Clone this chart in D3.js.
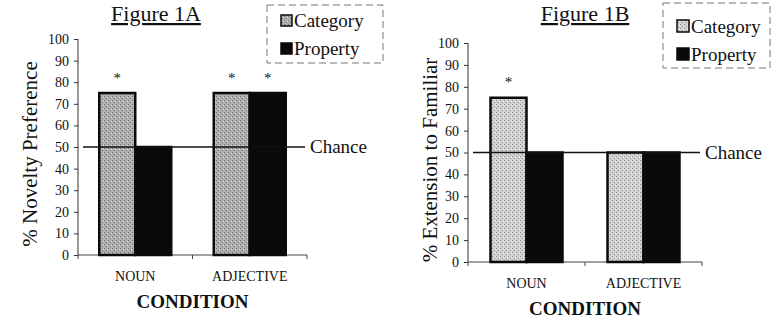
<!DOCTYPE html>
<html><head><meta charset="utf-8">
<script src="https://cdn.jsdelivr.net/npm/d3@7"></script>
<style>body{margin:0;background:#fff}svg{display:block}svg text{font-family:"Liberation Serif","DejaVu Serif",serif !important;fill:#111}</style>
</head><body>
<svg id="c" width="776" height="323" font-family="Liberation Serif"></svg>
<script>
const conditions = ["NOUN", "ADJECTIVE"];
const seriesNames = ["Category", "Property"];
const panelTitles = ["Figure 1A", "Figure 1B"];
const yTitles = ["% Novelty Preference", "% Extension to Familiar"];
const categoryA = [75, 75];
const propertyA = [50, 75];
const categoryB = [75, 50];
const propertyB = [50, 50];
const starsA = [[0, "Category"], [1, "Category"], [1, "Property"]];
const starsB = [[0, "Category"]];
const starValue = 83;
const chanceValue = 50;
const yTicks = [0, 10, 20, 30, 40, 50, 60, 70, 80, 90, 100];

const FF = "Liberation Serif";
const svg = d3.select("#c");
const defs = svg.append("defs");
function mkPattern(id, base, dot, light) {
  const p = defs.append("pattern").attr("id", id).attr("width", 4).attr("height", 4).attr("patternUnits", "userSpaceOnUse");
  p.append("rect").attr("width", 4).attr("height", 4).attr("fill", base);
  p.append("rect").attr("x", 0).attr("y", 0).attr("width", 1).attr("height", 1).attr("fill", dot);
  p.append("rect").attr("x", 2).attr("y", 2).attr("width", 1).attr("height", 1).attr("fill", dot);
  p.append("rect").attr("x", 3).attr("y", 1).attr("width", 1).attr("height", 1).attr("fill", light);
}
mkPattern("gA", "#b0b0b0", "#6e6e6e", "#e0e0e0");
mkPattern("gB", "#d2d2d2", "#8a8a8a", "#f0f0f0");

const panels = [
  {cat: categoryA, prop: propertyA, stars: starsA, fill: "url(#gA)", x0: 78, x1: 307, y0: 255, y1: 39,
   title: panelTitles[0], titleX: 156, yTitle: yTitles[0], yTitleX: 30, yTitleY: 154,
   legend: {x: 267, y: 5, w: 116, h: 58, sw: 11, r1: 27, r2: 55}},
  {cat: categoryB, prop: propertyB, stars: starsB, fill: "url(#gB)", x0: 468, x1: 702, y0: 262, y1: 43,
   title: panelTitles[1], titleX: 585, yTitle: yTitles[1], yTitleX: 430, yTitleY: 160,
   legend: {x: 663, y: 3, w: 107, h: 65, sw: 12, r1: 33, r2: 61}}
];

function txt(sel, size, weight) {
  return sel.attr("font-family", FF).style("font-family", FF).style("font-size", size + "px").style("font-weight", weight || "normal");
}

panels.forEach(p => {
  const g = svg.append("g");
  const y = d3.scaleLinear().domain([0, 100]).range([p.y0, p.y1]);
  const x = d3.scaleBand().domain(conditions).range([p.x0, p.x1]).padding(0);
  const xs = d3.scaleBand().domain(seriesNames).range([-36, 36]).padding(0);

  // y axis
  const ya = g.append("g").attr("transform", `translate(${p.x0},0)`)
    .call(d3.axisLeft(y).tickValues(yTicks).tickSize(4).tickPadding(5));
  ya.attr("font-family", FF).attr("font-size", null);
  ya.select(".domain").attr("stroke", "#333").attr("d", `M-0,${p.y1}V${p.y0}`);
  ya.selectAll(".tick line").attr("stroke", "#333");
  txt(ya.selectAll(".tick text"), 14).attr("fill", "#111");

  // x axis
  const xa = g.append("g").attr("transform", `translate(0,${p.y0})`)
    .call(d3.axisBottom(x).tickSize(0).tickPadding(16));
  xa.attr("font-family", FF).attr("font-size", null);
  xa.select(".domain").attr("stroke", "#444").attr("d", `M${p.x0},0H${p.x1}`);
  txt(xa.selectAll(".tick text"), 14).attr("fill", "#111");
  const bounds = [p.x0, x("ADJECTIVE"), p.x1];
  g.selectAll(".bt").data(bounds).enter().append("line")
    .attr("x1", d => d).attr("x2", d => d).attr("y1", p.y0).attr("y2", p.y0 + 4).attr("stroke", "#444");

  // bars
  const rows = conditions.map((c, i) => ({c, Category: p.cat[i], Property: p.prop[i]}));
  rows.forEach(r => {
    const cx = x(r.c) + x.bandwidth() / 2;
    seriesNames.forEach(s => {
      g.append("rect")
        .attr("x", cx + xs(s)).attr("width", xs.bandwidth())
        .attr("y", y(r[s])).attr("height", y(0) - y(r[s]))
        .attr("fill", s === "Category" ? p.fill : "#0a0a0a")
        .attr("stroke", "#0a0a0a").attr("stroke-width", 2.5);
    });
  });

  // chance line
  g.append("line").attr("x1", p.x0 + 5).attr("x2", p.x1 - 2)
    .attr("y1", y(chanceValue)).attr("y2", y(chanceValue)).attr("stroke", "#111").attr("stroke-width", 1.5);
  txt(g.append("text"), 19).attr("x", p.x1 + 3).attr("y", y(chanceValue) + 6).text("Chance");

  // stars
  p.stars.forEach(([ci, s]) => {
    const cx = x(conditions[ci]) + x.bandwidth() / 2 + xs(s) + xs.bandwidth() / 2;
    txt(g.append("text"), 15).attr("x", cx).attr("y", y(starValue) + 7).attr("text-anchor", "middle").text("*");
  });

  // titles
  txt(g.append("text"), 22).attr("x", p.titleX).attr("y", 21).attr("text-anchor", "middle")
    .style("text-decoration", "underline").text(p.title);
  txt(g.append("text"), 21).attr("transform", `translate(${p.yTitleX},${p.yTitleY}) rotate(-90)`)
    .attr("text-anchor", "middle").attr("dy", "0.35em").text(p.yTitle);
  txt(g.append("text"), 19, "bold").attr("x", (p.x0 + p.x1) / 2).attr("y", p.y0 + 53).attr("text-anchor", "middle")
    .text("CONDITION");

  // legend
  const L = p.legend;
  g.append("rect").attr("x", L.x).attr("y", L.y).attr("width", L.w).attr("height", L.h)
    .attr("fill", "none").attr("stroke", "#777").attr("stroke-dasharray", "7,4").attr("stroke-width", 1);
  [[seriesNames[0], p.fill, L.r1], [seriesNames[1], "#0a0a0a", L.r2]].forEach(([name, f, ry]) => {
    g.append("rect").attr("x", L.x + 14).attr("y", ry - L.sw - 1).attr("width", L.sw).attr("height", L.sw)
      .attr("fill", f).attr("stroke", "#0a0a0a").attr("stroke-width", 1.5);
    txt(g.append("text"), 19).attr("x", L.x + 16 + L.sw).attr("y", ry).text(name);
  });
});
</script>
</body></html>
